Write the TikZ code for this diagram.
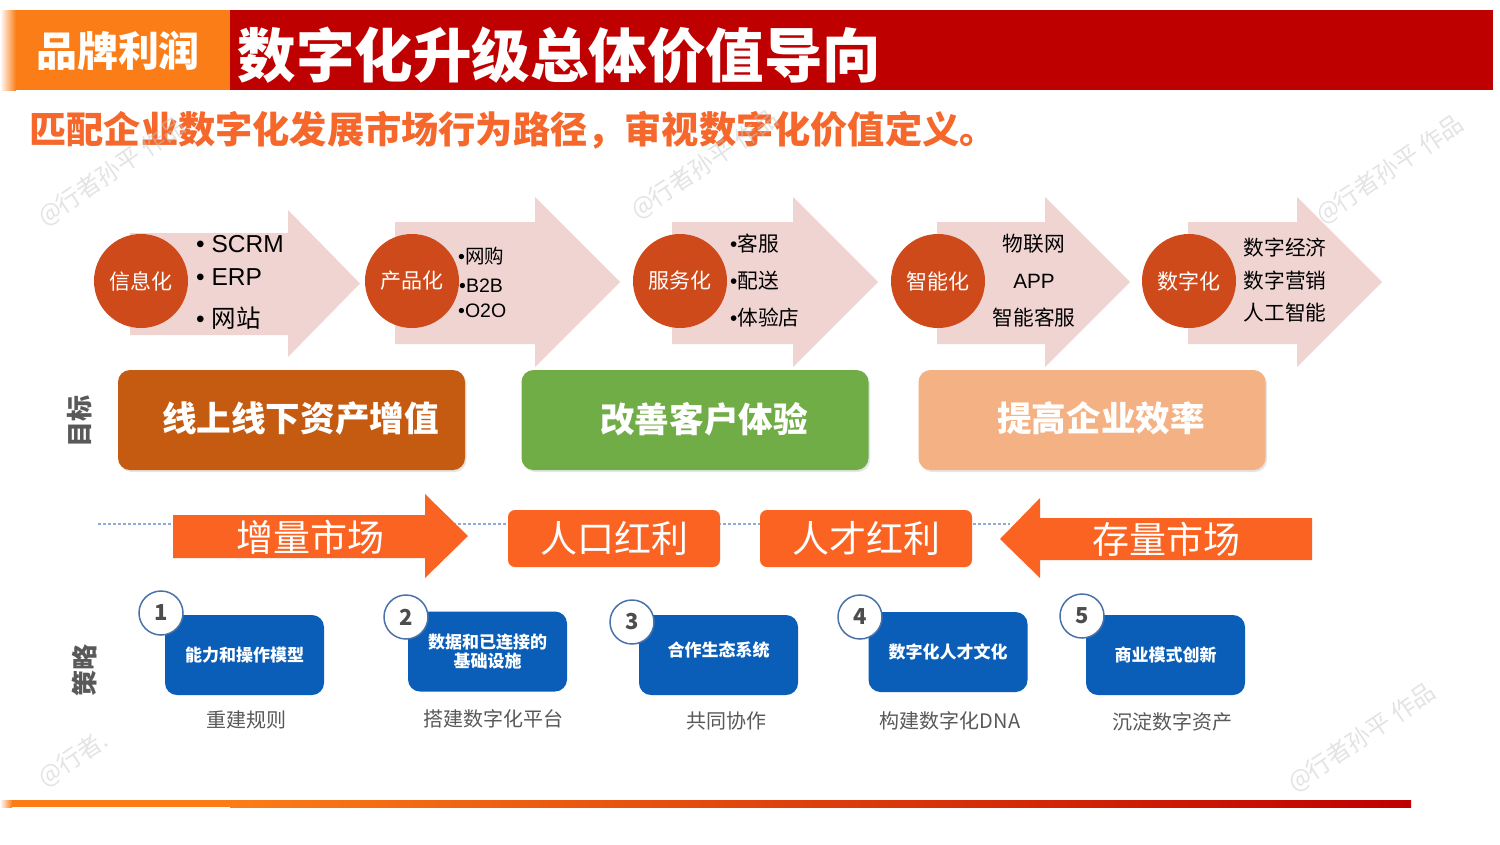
\documentclass[tikz,border=0pt]{standalone}
\usepackage{fontspec}
\setmainfont{Noto Sans CJK SC}
\newfontfamily\latinfont{Liberation Sans}
\usepackage{xcolor}
\usepackage{tikz}
\usetikzlibrary{positioning, arrows.meta, shadows}
\definecolor{brandorange}{HTML}{FB7D17}
\definecolor{titlered}{HTML}{BE0000}
\definecolor{subred}{HTML}{F5672A}
\definecolor{pinkarrow}{HTML}{EFD4D2}
\definecolor{circlered}{HTML}{CF4A1A}
\definecolor{goalbrown}{HTML}{C55A11}
\definecolor{goalgreen}{HTML}{70AD47}
\definecolor{goalpeach}{HTML}{F4B183}
\definecolor{marketorange}{HTML}{FA6322}
\definecolor{stratblue}{HTML}{0A5EB8}
\definecolor{numblue}{HTML}{4A72A8}
\definecolor{numgray}{HTML}{4D4D4D}
\definecolor{labelgray}{HTML}{595959}
\definecolor{dotblue}{HTML}{8FAADC}
\definecolor{wmgray}{HTML}{C8C8C8}

\newcommand\fsz[1]{\fontsize{#1}{#1}\selectfont}

\tikzset{
  stagecircle/.style={circle, fill=circlered, minimum size=94pt, inner sep=0pt,
    text=white, font=\fsz{21}},
  listitem/.style={anchor=west, inner sep=0pt, text=black},
  goalbox/.style={rounded corners=12pt, minimum width=347pt, minimum height=100pt,
    text=white, font=\fsz{34.6}\bfseries,
    drop shadow={opacity=0.2, shadow xshift=1.5pt, shadow yshift=-2pt}},
  marketbox/.style={rounded corners=7pt, fill=marketorange, minimum width=212pt,
    minimum height=57pt, text=white, font=\fsz{37}},
  stratbox/.style={rounded corners=12pt, fill=stratblue, minimum width=159pt,
    minimum height=80pt, text=white, font=\fontsize{17}{19}\selectfont\bfseries, align=center},
  stratnum/.style={circle, fill=white, draw=numblue, line width=1.5pt,
    minimum size=44pt, inner sep=0pt, text=numgray, font=\fsz{22}\bfseries},
  caption/.style={inner sep=0pt, text=labelgray, font=\fsz{20}},
  sidelabel/.style={rotate=90, text=labelgray, font=\fsz{26}\bfseries},
  watermark/.style={rotate=34, text=wmgray, opacity=0.5, font=\fsz{24}},
}

\begin{document}
\begin{tikzpicture}[x=1pt, y=-1pt]
  \useasboundingbox[fill=white] (0,0) rectangle (1500,844);

  % header
  \shade[left color=white, right color=brandorange] (0,10) rectangle (16,90);
  \fill[brandorange] (16,10) rectangle (230,90);
  \fill[titlered] (230,10) rectangle (1493,90);
  \node[text=white, font=\fsz{41}\bfseries] (brand) at (118,51) {品牌利润};
  \node[anchor=west, text=white, font=\fsz{58.5}\bfseries] (title) at (234,55)
    {数字化升级总体价值导向};
  \node[anchor=west, text=subred, font=\fsz{37.2}\bfseries] (tagline) at (26,130)
    {匹配企业数字化发展市场行为路径，审视数字化价值定义。};

  % stage arrows
  \foreach \bl/\hx/\tx/\bt/\bb/\ht/\hb in {130/288/360/233/335/210/357,
      395/535/620/222/344/197/367, 672/793/878/222/344/197/367,
      937/1045/1130/222/344/197/367, 1188/1297/1382/222/344/197/367}
    \fill[pinkarrow] (\bl,\bt) -- (\hx,\bt) -- (\hx,\ht) -- ({\tx},{(\ht+\hb)/2})
      -- (\hx,\hb) -- (\hx,\bb) -- (\bl,\bb) -- cycle;

  \node[stagecircle] (info) at (141,281) {信息化};
  \node[stagecircle] (product) at (412,281) {产品化};
  \node[stagecircle] (service) at (680,281) {服务化};
  \node[stagecircle] (smart) at (938,281) {智能化};
  \node[stagecircle] (digital) at (1189,281) {数字化};

  \node[listitem, font=\fsz{24.5}] (scrm) at (196,244) {\latinfont • SCRM};
  \node[listitem, font=\fsz{24.5}] (erp) at (196,277) {\latinfont • ERP};
  \node[listitem, font=\fsz{24.5}] (site) at (196,318) {{\latinfont • }网站};

  \node[listitem, font=\fsz{19.5}] (shop) at (458,256) {{\latinfont •}网购};
  \node[listitem, font=\fsz{19.5}] (btob) at (459,286) {\latinfont •B2B};
  \node[listitem, font=\fsz{19.5}] (oto) at (458,311) {\latinfont •O2O};

  \node[listitem, font=\fsz{20.7}] (support) at (730,244) {{\latinfont •}客服};
  \node[listitem, font=\fsz{20.7}] (delivery) at (730,281) {{\latinfont •}配送};
  \node[listitem, font=\fsz{20.7}] (store) at (730,318) {{\latinfont •}体验店};

  \node[font=\fsz{20.7}] (iot) at (1034,244) {物联网};
  \node[font=\fsz{20.7}] (app) at (1034,281) {\latinfont APP};
  \node[font=\fsz{20.7}] (aiservice) at (1034,318) {智能客服};

  \node[font=\fsz{20.7}] (economy) at (1285,248) {数字经济};
  \node[font=\fsz{20.7}] (marketing) at (1285,281) {数字营销};
  \node[font=\fsz{20.7}] (ai) at (1285,313) {人工智能};

  % goals
  \node[sidelabel] (goallabel) at (80,421) {目标};
  \node[goalbox, fill=goalbrown] (asset) at (291.5,420) {\hspace*{18pt}线上线下资产增值\raisebox{0pt}[0pt][6pt]{}};
  \node[goalbox, fill=goalgreen] (experience) at (695,420) {\hspace*{18pt}改善客户体验\raisebox{0pt}[0pt][6pt]{}};
  \node[goalbox, fill=goalpeach] (efficiency) at (1092,420) {\hspace*{18pt}提高企业效率\raisebox{0pt}[0pt][6pt]{}};

  % markets
  \coordinate (dotstart) at (98,524);
  \coordinate (dotend) at (1010,524);
  \draw[dotblue, line width=1.5pt, dash pattern=on 3pt off 2pt] (dotstart) -- (dotend);
  \fill[marketorange] (173,515) -- (425,515) -- (425,494) -- (468,536) -- (425,578)
    -- (425,558) -- (173,558) -- cycle;
  \node[text=white, font=\fsz{37}] (growth) at (310,537) {增量市场};
  \node[marketbox] (population) at (614,538.5) {人口红利};
  \node[marketbox] (talent) at (866,538.5) {人才红利};
  \fill[marketorange] (1312,518) -- (1040,518) -- (1040,498) -- (1000,539) -- (1040,578)
    -- (1040,560) -- (1312,560) -- cycle;
  \node[text=white, font=\fsz{37}] (stock) at (1166,539) {存量市场};

  % strategies
  \node[sidelabel] (stratlabel) at (85,670) {策略};
  \node[stratbox] (strat1) at (244.5,655) {能力和操作模型};
  \node[stratbox] (strat2) at (487.5,651.5) {数据和已连接的\\基础设施};
  \node[stratbox] (strat3) at (718.5,655) {合作生态系统\\[-7pt]};
  \node[stratbox] (strat4) at (948,652) {数字化人才文化};
  \node[stratbox] (strat5) at (1165.5,655) {商业模式创新};

  \node[stratnum] (num1) at (161,613) {1};
  \node[stratnum] (num2) at (406,617) {2};
  \node[stratnum] (num3) at (632,622) {3};
  \node[stratnum] (num4) at (860,617) {4};
  \node[stratnum] (num5) at (1082,616) {5};

  \node[caption, below=15pt of strat1, xshift=2pt] (rule) {重建规则};
  \node[caption, below=18pt of strat2, xshift=6pt] (platform) {搭建数字化平台};
  \node[caption, below=16pt of strat3, xshift=8pt] (cowork) {共同协作};
  \node[caption, below=19pt of strat4, xshift=2pt] (dna) {构建数字化DNA};
  \node[caption, below=17pt of strat5, xshift=7pt] (assets) {沉淀数字资产};

  % footer bar
  \shade[left color=white, right color=brandorange] (0,800) rectangle (12,807);
  \fill[brandorange] (12,800) rectangle (230,807);
  \shade[left color=brandorange, right color=titlered] (230,800) rectangle (1411,807);

  % watermarks
  \node[watermark] (wm1) at (112,172) {@行者孙平 作品};
  \node[watermark] (wm2) at (705,165) {@行者孙平 作品};
  \node[watermark] (wm3) at (1390,170) {@行者孙平 作品};
  \node[watermark, anchor=west] (wm4) at (38,783) {@行者.};
  \node[watermark] (wm5) at (1362,738) {@行者孙平 作品};
\end{tikzpicture}
\end{document}
